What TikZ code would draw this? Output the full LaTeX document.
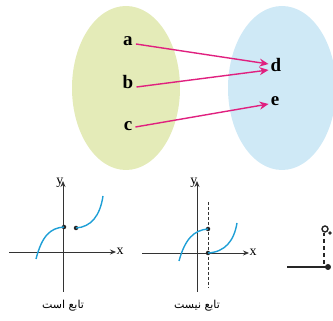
\documentclass[tikz,border=0pt]{standalone}
\usepackage{fontspec}
\setmainfont{Liberation Serif}
\newfontfamily\arabicfont[Script=Arabic]{DejaVu Sans}
\TeXXeTstate=1
\usetikzlibrary{arrows.meta,calc}
\definecolor{leftset}{HTML}{E4EBB8}
\definecolor{rightset}{HTML}{CFE9F6}
\definecolor{maparrow}{HTML}{E0207F}
\definecolor{curveblue}{HTML}{1E9FD6}
\begin{document}
\begin{tikzpicture}[x=1pt,y=-1pt,
  letter/.style={font=\fontsize{19}{19}\selectfont\bfseries, inner sep=1pt},
  maparr/.style={draw=maparrow, line width=1.4pt, -{Stealth[length=9pt,width=8pt]}},
  axis/.style={draw=black!80, line width=0.8pt, -{Stealth[length=6pt,width=5pt]}},
  axlabel/.style={font=\fontsize{14}{14}\selectfont, inner sep=0.5pt},
  fcurve/.style={draw=curveblue, line width=1.4pt},
  fdot/.style={circle, fill=black!85, inner sep=0pt, minimum size=4.5pt},
  caption/.style={font=\arabicfont\fontsize{11}{11}\selectfont, inner sep=1pt}]
\useasboundingbox (0,0) rectangle (333,321);
% sets
\fill[leftset] (126,88) ellipse [x radius=54, y radius=82];
\fill[rightset] (282,88) ellipse [x radius=54, y radius=82];
% letters
\node[letter] (a) at (128,41) {a};
\node[letter] (b) at (128,82) {b};
\node[letter] (c) at (128,126) {c};
\node[letter] (d) at (276,65) {d};
\node[letter] (e) at (275,101) {e};
\draw[maparr] ($(a.east)+(2,3)$) -- ($(d.west)+(-1,-1)$);
\draw[maparr] ($(b.east)+(2,5)$) -- ($(d.west)+(-1,5)$);
\draw[maparr] ($(c.east)+(2,1)$) -- ($(e.west)+(-1,3)$);
% graph 1
\coordinate (x1s) at (9,252);
\coordinate (x1e) at (116,252);
\coordinate (y1s) at (63,292);
\coordinate (y1e) at (63,181);
\draw[axis] (x1s) -- (x1e);
\draw[axis] (y1s) -- (y1e);
\node[axlabel, anchor=west] (x1) at ($(x1e)+(0,-1)$) {x};
\node[axlabel, anchor=east] (y1) at ($(y1e)+(1,2)$) {y};
\node[fdot] (p1) at (64,227) {};
\node[fdot] (p2) at (76,228) {};
\draw[fcurve] (36,259) .. controls (42,236) and (50,228) .. (p1.center);
\draw[fcurve] (p2.center) .. controls (91,227) and (100,216) .. (103,196);
\node[caption] (cap1) at (63,306) {\beginR تابع است\endR};
% graph 2
\coordinate (x2s) at (142,253);
\coordinate (x2e) at (249,253);
\coordinate (y2s) at (197,292);
\coordinate (y2e) at (197,181);
\draw[axis] (x2s) -- (x2e);
\draw[axis] (y2s) -- (y2e);
\node[axlabel, anchor=west] (x2) at ($(x2e)+(0,-1)$) {x};
\node[axlabel, anchor=east] (y2) at ($(y2e)+(1,2)$) {y};
\coordinate (v2t) at (208,202);
\coordinate (v2b) at (208,288);
\draw[black!80, line width=0.7pt, dash pattern=on 3pt off 2pt] (v2t) -- (v2b);
\node[fdot] (q1) at (208,229) {};
\node[fdot] (q2) at (208,253) {};
\draw[fcurve] (179,261) .. controls (185,239) and (194,230) .. (q1.center);
\draw[fcurve] (q2.center) .. controls (225,252) and (234,241) .. (237,223);
\node[caption] (cap2) at (197,306) {\beginR تابع نیست\endR};
% partial graph at the right edge
\coordinate (x3s) at (287,267);
\node[fdot, minimum size=6pt] (r1) at (328,267) {};
\draw[black!85, line width=1.1pt] (x3s) -- (r1.center);
\coordinate (v3b) at (324,264);
\node[circle, draw=black!85, line width=1.4pt, inner sep=0pt, minimum size=6pt] (r2) at (325,229) {};
\draw[black!85, line width=1.1pt, dash pattern=on 4pt off 3pt] (v3b) -- (r2.south -| v3b);
\fill[black!85] (330,233) circle (1.8);
\end{tikzpicture}
\end{document}
